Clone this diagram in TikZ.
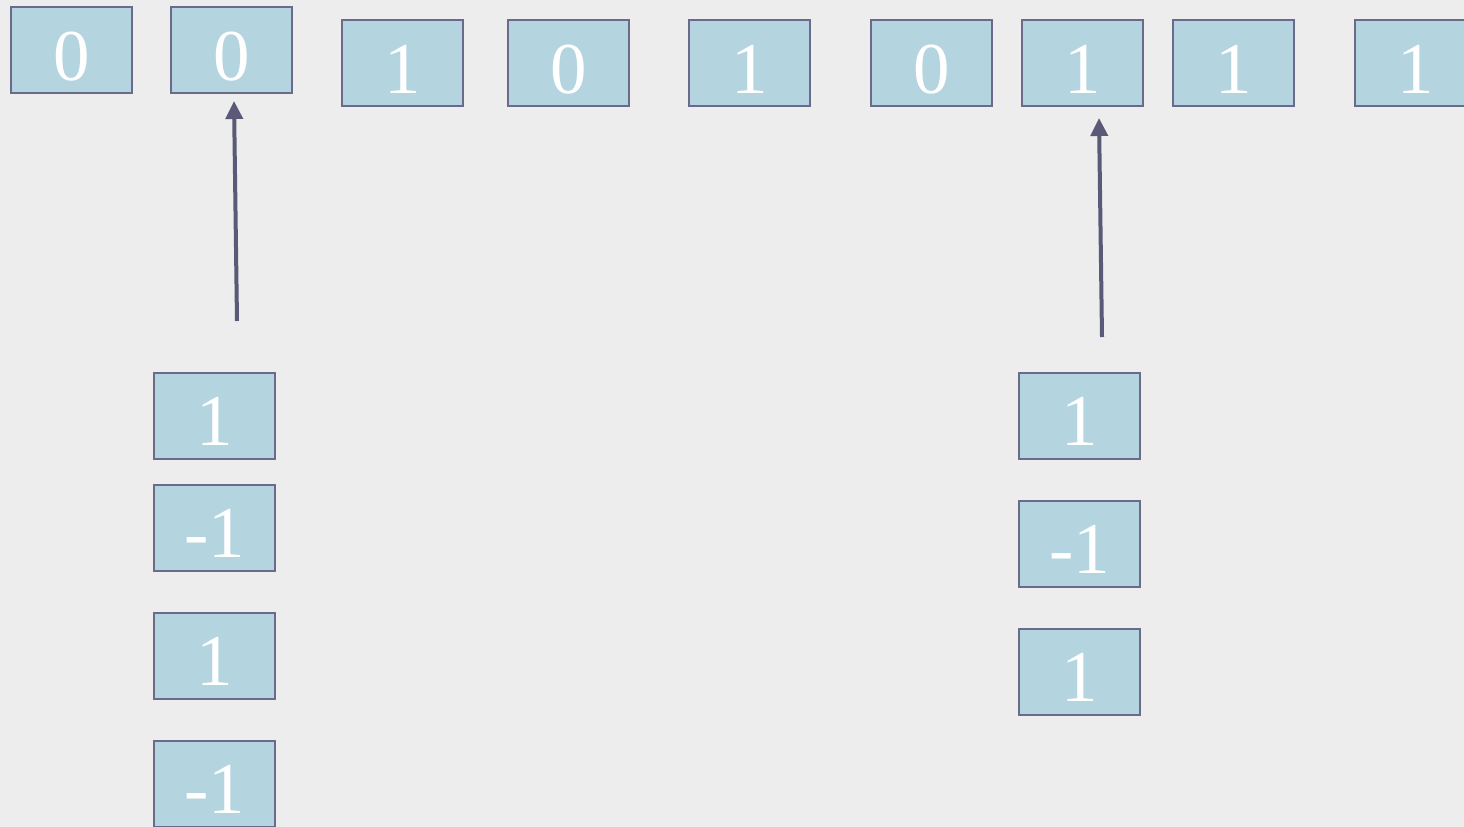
\documentclass[tikz,border=0pt]{standalone}
\usepackage{fontspec}
\setmainfont{Liberation Serif}
\usetikzlibrary{arrows.meta}
\definecolor{bg}{HTML}{EDEDED}
\definecolor{boxfill}{HTML}{B4D5E0}
\definecolor{boxedge}{HTML}{6A6A8A}
\definecolor{arrcol}{HTML}{5A5A78}
\tikzset{
  cell/.style={draw=boxedge, line width=2pt, fill=boxfill, minimum width=121pt, minimum height=86pt, text height=73pt, text depth=13pt, inner sep=0pt, text=white, font=\fontsize{73}{73}\selectfont},
  arr/.style={draw=arrcol, line width=4pt, -{Triangle[length=18pt,width=17pt]}}
}
\begin{document}
\begin{tikzpicture}[x=1pt,y=-1pt]
\useasboundingbox (0,0) rectangle (1464,827);
\clip (0,0) rectangle (1464,827);
\fill[bg] (0,0) rectangle (1464,827);
% top row
\node[cell] (b1) at (71.5,50) {0};
\node[cell] (b2) at (231.5,50) {0};
\node[cell] (b3) at (402.5,63) {1};
\node[cell] (b4) at (568.5,63) {0};
\node[cell] (b5) at (749.5,63) {1};
\node[cell] (b6) at (931.5,63) {0};
\node[cell] (b7) at (1082.5,63) {1};
\node[cell] (b8) at (1233.5,63) {1};
\node[cell] (b9) at (1415.5,63) {1};
% left column
\node[cell] (l1) at (214.5,415.5) {1};
\node[cell] (l2) at (214.5,527.5) {-1};
\node[cell] (l3) at (214.5,655.5) {1};
\node[cell] (l4) at (214.5,783.5) {-1};
% right column
\node[cell] (r1) at (1079.5,415.5) {1};
\node[cell] (r2) at (1079.5,543.5) {-1};
\node[cell] (r3) at (1079.5,671.5) {1};
% arrows
\coordinate (t1) at (237,321);
\coordinate (t2) at (1102,337);
\draw[arr] (t1) -- ([xshift=2.5pt,yshift=-7pt]b2.south);
\draw[arr] (t2) -- ([xshift=16.5pt,yshift=-11pt]b7.south);
\end{tikzpicture}
\end{document}
